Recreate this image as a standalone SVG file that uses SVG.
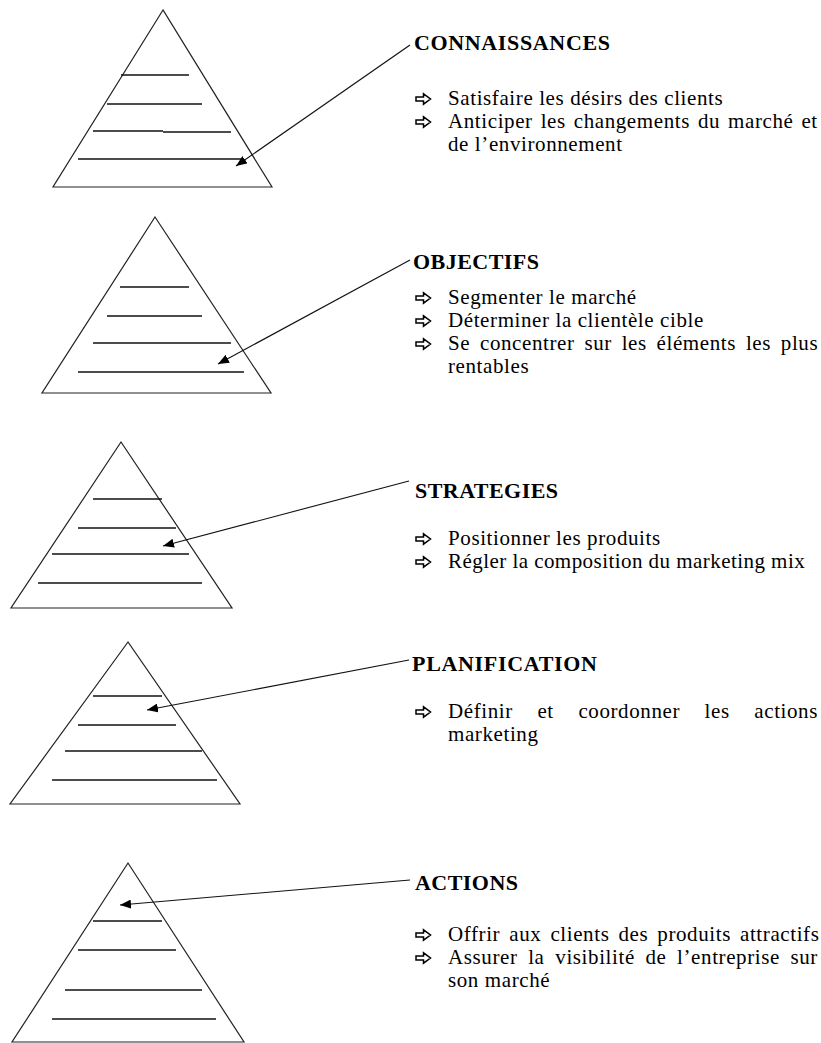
<svg xmlns="http://www.w3.org/2000/svg" width="821" height="1043" viewBox="0 0 821 1043">
  <style>
    .pyr { fill: none; stroke: #222; stroke-width: 1.2; }
    .tier { stroke: #111; stroke-width: 1.6; }
    .conn { fill: none; stroke: #111; stroke-width: 1.1; }
    .head { font-family: 'Liberation Serif', 'DejaVu Serif', serif; font-weight: bold; font-size: 22px; fill: #000; }
    .item { font-family: 'Liberation Serif', 'DejaVu Serif', serif; font-size: 21px; letter-spacing: 0.6px; fill: #000; }
    .bullet { fill: #fff; stroke: #000; stroke-width: 1.5; stroke-linejoin: miter; }
  </style>
  <defs>
    <marker id="head" viewBox="0 0 11 9" refX="11" refY="4.5" markerWidth="11" markerHeight="9" markerUnits="userSpaceOnUse" orient="auto">
      <path d="M0,0 L11,4.5 L0,9 z" fill="#000"/>
    </marker>
    <!-- hollow right-pointing bullet arrow -->
    <polygon id="blt" class="bullet" points="0,-2 7.5,-2 7.5,-5.2 14.5,0 7.5,5.2 7.5,2 0,2"/>
  </defs>
  <rect width="821" height="1043" fill="#fff"/>

  <!-- CONNAISSANCES -->
  <g id="pyramid-connaissances">
    <polygon class="pyr" points="163,10 53,187 272,187"/>
    <line class="tier" x1="121" y1="75" x2="189" y2="75"/>
    <line class="tier" x1="107" y1="104" x2="202" y2="104"/>
    <line class="tier" x1="93" y1="131" x2="163" y2="131"/>
    <line class="tier" x1="163" y1="132" x2="231" y2="132"/>
    <line class="tier" x1="78" y1="159" x2="244" y2="159"/>
  </g>
  <g id="text-connaissances">
    <text class="head" x="414" y="50" textLength="196" lengthAdjust="spacing">CONNAISSANCES</text>
    <use href="#blt" x="416" y="99"/>
    <text class="item" x="448" y="105">Satisfaire les désirs des clients</text>
    <use href="#blt" x="416" y="122"/>
    <text class="item" x="448" y="128" word-spacing="2.1">Anticiper les changements du marché et</text>
    <text class="item" x="448" y="151">de l’environnement</text>
  </g>

  <!-- OBJECTIFS -->
  <g id="pyramid-objectifs">
    <polygon class="pyr" points="155,217 42,393 271,393"/>
    <line class="tier" x1="120" y1="287" x2="189" y2="287"/>
    <line class="tier" x1="107" y1="316" x2="202" y2="316"/>
    <line class="tier" x1="93" y1="343" x2="231" y2="343"/>
    <line class="tier" x1="78" y1="372" x2="244" y2="372"/>
  </g>
  <g id="text-objectifs">
    <text class="head" x="413" y="269" textLength="126" lengthAdjust="spacing">OBJECTIFS</text>
    <use href="#blt" x="416" y="298"/>
    <text class="item" x="448" y="304">Segmenter le marché</text>
    <use href="#blt" x="416" y="321"/>
    <text class="item" x="448" y="327">Déterminer la clientèle cible</text>
    <use href="#blt" x="416" y="344"/>
    <text class="item" y="350"><tspan x="448">Se</tspan><tspan x="480">concentrer</tspan><tspan x="584.4">sur</tspan><tspan x="621.7">les</tspan><tspan x="656.6">éléments</tspan><tspan x="745.9">les</tspan><tspan x="780.8">plus</tspan></text>
    <text class="item" x="448" y="373">rentables</text>
  </g>

  <!-- STRATEGIES -->
  <g id="pyramid-strategies">
    <polygon class="pyr" points="121,442 11,608 232,608"/>
    <line class="tier" x1="93" y1="499" x2="162" y2="499"/>
    <line class="tier" x1="78" y1="528" x2="176" y2="528"/>
    <line class="tier" x1="52" y1="554" x2="189" y2="554"/>
    <line class="tier" x1="38" y1="583" x2="202" y2="583"/>
  </g>
  <g id="text-strategies">
    <text class="head" x="415" y="498" textLength="143" lengthAdjust="spacing">STRATEGIES</text>
    <use href="#blt" x="416" y="539"/>
    <text class="item" x="448" y="545">Positionner les produits</text>
    <use href="#blt" x="416" y="562"/>
    <text class="item" x="448" y="568" style="letter-spacing:0.45px">Régler la composition du marketing mix</text>
  </g>

  <!-- PLANIFICATION -->
  <g id="pyramid-planification">
    <polygon class="pyr" points="128,642 10,804 240,804"/>
    <line class="tier" x1="93" y1="696" x2="162" y2="696"/>
    <line class="tier" x1="78" y1="725" x2="176" y2="725"/>
    <line class="tier" x1="65" y1="751" x2="202" y2="751"/>
    <line class="tier" x1="52" y1="780" x2="217" y2="780"/>
  </g>
  <g id="text-planification">
    <text class="head" x="412" y="671" textLength="185" lengthAdjust="spacing">PLANIFICATION</text>
    <use href="#blt" x="416" y="712"/>
    <text class="item" y="718"><tspan x="448">Définir</tspan><tspan x="537.4">et</tspan><tspan x="578.4">coordonner</tspan><tspan x="704.6">les</tspan><tspan x="754.3">actions</tspan></text>
    <text class="item" x="448" y="741">marketing</text>
  </g>

  <!-- ACTIONS -->
  <g id="pyramid-actions">
    <polygon class="pyr" points="128,863 12,1042 244,1042"/>
    <line class="tier" x1="93" y1="921" x2="162" y2="921"/>
    <line class="tier" x1="78" y1="950" x2="176" y2="950"/>
    <line class="tier" x1="65" y1="990" x2="202" y2="990"/>
    <line class="tier" x1="52" y1="1019" x2="216" y2="1019"/>
  </g>
  <g id="text-actions">
    <text class="head" x="415" y="890" textLength="103" lengthAdjust="spacing">ACTIONS</text>
    <use href="#blt" x="416" y="935"/>
    <text class="item" x="448" y="941" word-spacing="3.2">Offrir aux clients des produits attractifs</text>
    <use href="#blt" x="416" y="958"/>
    <text class="item" y="964"><tspan x="448">Assurer</tspan><tspan x="528.2">la</tspan><tspan x="555.3">visibilité</tspan><tspan x="645.4">de</tspan><tspan x="677.1">l’entreprise</tspan><tspan x="790.5">sur</tspan></text>
    <text class="item" x="448" y="987">son marché</text>
  </g>

  <!-- leader lines from each heading to its pyramid tier -->
  <g id="connectors">
    <line class="conn" x1="410" y1="45" x2="236" y2="166" marker-end="url(#head)"/>
    <line class="conn" x1="410" y1="260" x2="218" y2="364" marker-end="url(#head)"/>
    <line class="conn" x1="409" y1="481" x2="163" y2="546" marker-end="url(#head)"/>
    <line class="conn" x1="409" y1="660" x2="147" y2="710" marker-end="url(#head)"/>
    <line class="conn" x1="410" y1="880" x2="120" y2="905" marker-end="url(#head)"/>
  </g>
</svg>
